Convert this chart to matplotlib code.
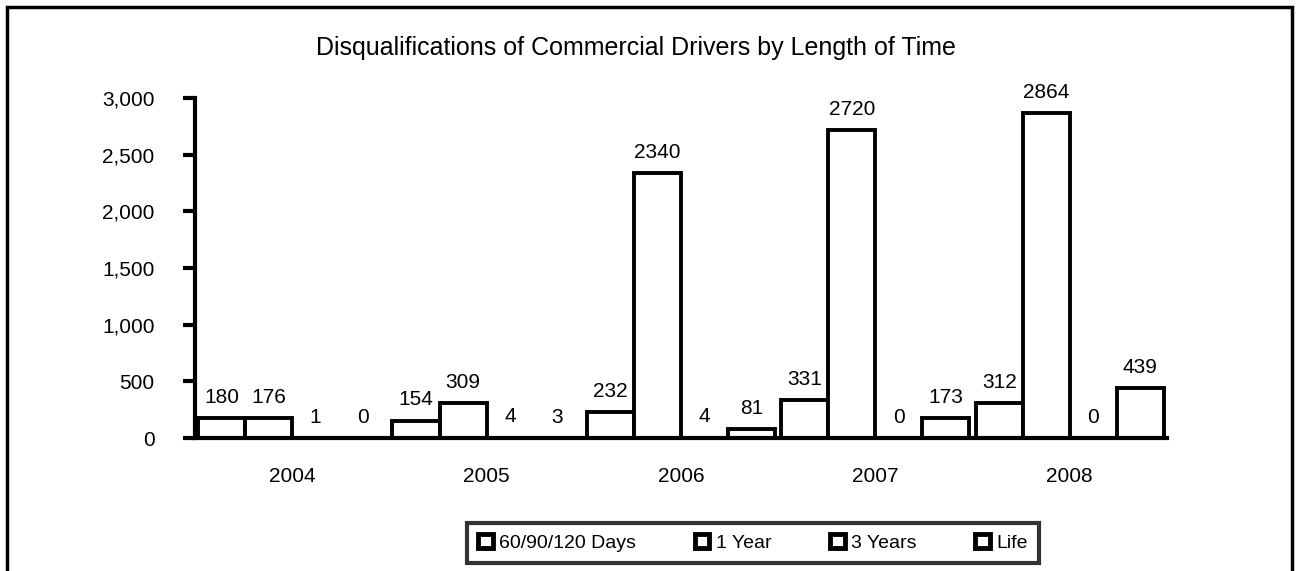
import matplotlib.pyplot as plt
import numpy as np
from matplotlib.patches import Rectangle

plt.rcParams['font.family'] = ['Liberation Sans', 'DejaVu Sans']

# Data
years = ['2004', '2005', '2006', '2007', '2008']
series_names = ['60/90/120 Days', '1 Year', '3 Years', 'Life']
days_60_90_120 = [180, 154, 232, 331, 312]
one_year = [176, 309, 2340, 2720, 2864]
three_years = [1, 4, 4, 0, 0]
life = [0, 3, 81, 173, 439]
yticks = [0, 500, 1000, 1500, 2000, 2500, 3000]

series = [days_60_90_120, one_year, three_years, life]

fig = plt.figure(figsize=(12.98, 5.71), dpi=100)
ax = fig.add_axes([0.1502, 0.2329, 0.7488, 0.5955])

x = np.arange(len(years))
width = 0.242
for i, (name, vals) in enumerate(zip(series_names, series)):
    offs = (i - 1.5) * width
    bars = ax.bar(x + offs, vals, width, color='white', edgecolor='black',
                  linewidth=2.8, label=name, zorder=3)
    ax.bar_label(bars, labels=[str(v) for v in vals], padding=8, fontsize=15)

ax.set_xlim(-0.5, 4.5)
ax.set_ylim(0, 3000)
ax.set_yticks(yticks)
ax.set_yticklabels([f'{v:,}' for v in yticks], fontsize=15)
ax.set_xticks(x)
ax.set_xticklabels(years, fontsize=15)
ax.tick_params(axis='y', direction='out', length=9, width=3, pad=20)
ax.tick_params(axis='x', length=0, pad=21)

for s in ['top', 'right']:
    ax.spines[s].set_visible(False)
ax.spines['left'].set_linewidth(3)
ax.spines['bottom'].set_linewidth(3)
ax.spines['bottom'].set_zorder(4)

fig.text(0.49, 1 - 48 / 571, 'Disqualifications of Commercial Drivers by Length of Time',
         ha='center', va='center', fontsize=18)

leg = ax.legend(loc='center', bbox_to_anchor=(753 / 1298, 1 - 543 / 571),
                bbox_transform=fig.transFigure,
                ncol=4, fontsize=14, frameon=True, fancybox=False,
                handlelength=0.75, handleheight=0.75, handletextpad=0.35,
                columnspacing=3.0, borderpad=0.55, borderaxespad=0)
leg.get_frame().set_edgecolor('black')
leg.get_frame().set_linewidth(3)
for h in leg.legend_handles:
    h.set_linewidth(3.5)

# outer border of the chart area
fig.patches.append(Rectangle((7 / 1298, -0.05), 1285 / 1298, 1.05 - 7 / 571,
                             transform=fig.transFigure, fill=False,
                             edgecolor='black', linewidth=2.5))

fig.savefig('out.png', dpi=100)
